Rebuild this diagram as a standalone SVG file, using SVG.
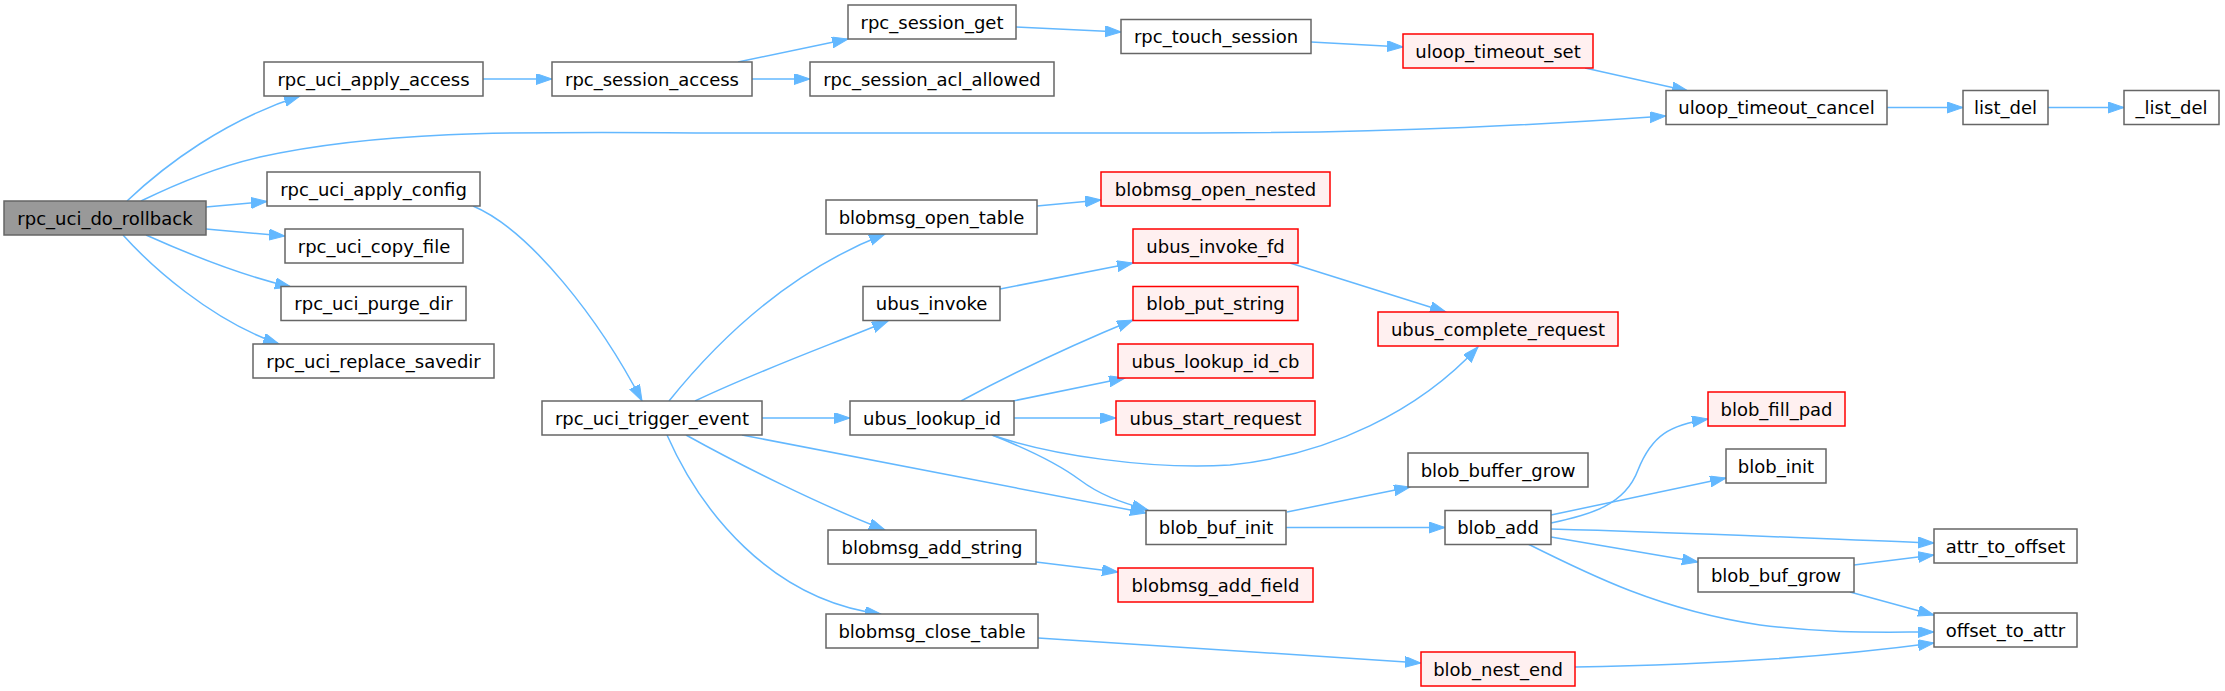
<svg xmlns="http://www.w3.org/2000/svg" width="2225" height="691" viewBox="0 0 2225 691">
<style>
.n rect{fill:#ffffff;stroke:#666666;stroke-width:1.5}
.g rect{fill:#999999;stroke:#666666;stroke-width:1.5}
.r rect{fill:#fff0f0;stroke:#ff0000;stroke-width:1.5}
text{font-family:"DejaVu Sans","Liberation Sans",sans-serif;font-size:18px;fill:#000;text-anchor:middle}
.e path{fill:none;stroke:#63b8ff;stroke-width:1.5;marker-end:url(#ah)}
</style>
<defs>
<marker id="ah" markerUnits="userSpaceOnUse" markerWidth="17" markerHeight="12" refX="16" refY="5.5" orient="auto">
<path d="M0,0 L16,5.5 L0,11 Z" fill="#63b8ff" stroke="#63b8ff" stroke-width="1"/>
</marker>
</defs>
<rect width="2225" height="691" fill="#ffffff"/>
<g id="connectors" class="e">
<path d="M127,201 C165,165 225,120 300,96"/>
<path d="M141,201 C180,182 220,166 260,157 C400,126 560,133 760,133 L1200,133 C1400,133 1550,124 1666,116"/>
<path d="M206,207 L267,201.5"/>
<path d="M206,229 L285,236"/>
<path d="M146,235 C175,248 235,274 291,287"/>
<path d="M123,235 C150,265 210,320 279,344"/>
<path d="M483,79 L552,79"/>
<path d="M473,206 C530,230 600,320 642,401"/>
<path d="M738,62 L848,39"/>
<path d="M752,79 L810,79"/>
<path d="M1016,27 L1121,32"/>
<path d="M1311,42 L1403,47"/>
<path d="M1585,68 L1688,91"/>
<path d="M1887,107.5 L1963,107.5"/>
<path d="M2048,107.5 L2124,107.5"/>
<path d="M669,401 C710,350 780,275 885,234"/>
<path d="M695,401 C760,370 830,345 888,321"/>
<path d="M762,418 L850,418"/>
<path d="M742,435 L1146,513"/>
<path d="M686,435 C740,465 820,505 885,530"/>
<path d="M667,435 C700,510 770,600 881,614"/>
<path d="M1037,206 L1101,200"/>
<path d="M1000,289 L1133,263"/>
<path d="M1290,263 L1446,312"/>
<path d="M961,401 C1000,380 1060,350 1133,320"/>
<path d="M1013,401 L1125,378"/>
<path d="M1013,418 L1116,418"/>
<path d="M992,435 C1050,455 1150,470 1230,465 C1330,455 1420,410 1478,347"/>
<path d="M992,435 C1030,450 1060,465 1080,480 C1100,495 1120,502 1148,510"/>
<path d="M1036,562 L1118,572"/>
<path d="M1038,638 C1150,645 1300,655 1421,663"/>
<path d="M1287,512 L1410,487"/>
<path d="M1286,527.5 L1445,527.5"/>
<path d="M1551,523 C1590,515 1625,505 1638,470 C1652,435 1670,425 1708,419"/>
<path d="M1551,515 L1726,478"/>
<path d="M1551,529 C1700,533 1850,540 1934,543"/>
<path d="M1551,537 L1698,562"/>
<path d="M1528,544 C1590,575 1660,610 1760,625 C1830,634 1880,632 1934,632"/>
<path d="M1854,565 L1934,555"/>
<path d="M1850,592 L1934,615"/>
<path d="M1575,667 C1700,665 1830,657 1934,643"/>
</g>
<g id="rpc_uci_do_rollback" class="g"><rect x="4" y="201" width="202" height="34"/><text x="105" y="224.5">rpc_uci_do_rollback</text></g>
<g id="rpc_uci_apply_access" class="n"><rect x="264" y="62" width="219" height="34"/><text x="373.5" y="85.5">rpc_uci_apply_access</text></g>
<g id="rpc_uci_apply_config" class="n"><rect x="267" y="172" width="213" height="34"/><text x="373.5" y="195.5">rpc_uci_apply_config</text></g>
<g id="rpc_uci_copy_file" class="n"><rect x="285" y="229" width="178" height="34"/><text x="374" y="252.5">rpc_uci_copy_file</text></g>
<g id="rpc_uci_purge_dir" class="n"><rect x="281" y="286.5" width="185" height="34"/><text x="373.5" y="310">rpc_uci_purge_dir</text></g>
<g id="rpc_uci_replace_savedir" class="n"><rect x="253" y="344" width="241" height="34"/><text x="373.5" y="367.5">rpc_uci_replace_savedir</text></g>
<g id="rpc_session_get" class="n"><rect x="848" y="5" width="168" height="34"/><text x="932" y="28.5">rpc_session_get</text></g>
<g id="rpc_session_access" class="n"><rect x="552" y="62" width="200" height="34"/><text x="652" y="85.5">rpc_session_access</text></g>
<g id="rpc_session_acl_allowed" class="n"><rect x="810" y="62" width="244" height="34"/><text x="932" y="85.5">rpc_session_acl_allowed</text></g>
<g id="rpc_touch_session" class="n"><rect x="1121" y="19.5" width="190" height="34"/><text x="1216" y="43">rpc_touch_session</text></g>
<g id="uloop_timeout_set" class="r"><rect x="1403" y="34" width="190" height="34"/><text x="1498" y="57.5">uloop_timeout_set</text></g>
<g id="uloop_timeout_cancel" class="n"><rect x="1666" y="90.5" width="221" height="34"/><text x="1776.5" y="114">uloop_timeout_cancel</text></g>
<g id="list_del" class="n"><rect x="1963" y="90.5" width="85" height="34"/><text x="2005.5" y="114">list_del</text></g>
<g id="_list_del" class="n"><rect x="2124" y="90.5" width="95" height="34"/><text x="2171.5" y="114">_list_del</text></g>
<g id="rpc_uci_trigger_event" class="n"><rect x="542" y="401" width="220" height="34"/><text x="652" y="424.5">rpc_uci_trigger_event</text></g>
<g id="blobmsg_open_table" class="n"><rect x="826" y="200" width="211" height="34"/><text x="931.5" y="223.5">blobmsg_open_table</text></g>
<g id="ubus_invoke" class="n"><rect x="863" y="286.5" width="137" height="34"/><text x="931.5" y="310">ubus_invoke</text></g>
<g id="ubus_lookup_id" class="n"><rect x="850" y="401" width="164" height="34"/><text x="932" y="424.5">ubus_lookup_id</text></g>
<g id="blobmsg_add_string" class="n"><rect x="828" y="530" width="208" height="34"/><text x="932" y="553.5">blobmsg_add_string</text></g>
<g id="blobmsg_close_table" class="n"><rect x="826" y="614" width="212" height="34"/><text x="932" y="637.5">blobmsg_close_table</text></g>
<g id="blobmsg_open_nested" class="r"><rect x="1101" y="172" width="229" height="34"/><text x="1215.5" y="195.5">blobmsg_open_nested</text></g>
<g id="ubus_invoke_fd" class="r"><rect x="1133" y="229" width="165" height="34"/><text x="1215.5" y="252.5">ubus_invoke_fd</text></g>
<g id="blob_put_string" class="r"><rect x="1133" y="286.5" width="165" height="34"/><text x="1215.5" y="310">blob_put_string</text></g>
<g id="ubus_complete_request" class="r"><rect x="1378" y="312" width="240" height="34"/><text x="1498" y="335.5">ubus_complete_request</text></g>
<g id="ubus_lookup_id_cb" class="r"><rect x="1118" y="344" width="195" height="34"/><text x="1215.5" y="367.5">ubus_lookup_id_cb</text></g>
<g id="ubus_start_request" class="r"><rect x="1116" y="401" width="199" height="34"/><text x="1215.5" y="424.5">ubus_start_request</text></g>
<g id="blob_buf_init" class="n"><rect x="1146" y="510.5" width="140" height="34"/><text x="1216" y="534">blob_buf_init</text></g>
<g id="blobmsg_add_field" class="r"><rect x="1118" y="568" width="195" height="34"/><text x="1215.5" y="591.5">blobmsg_add_field</text></g>
<g id="blob_buffer_grow" class="n"><rect x="1408" y="453" width="180" height="34"/><text x="1498" y="476.5">blob_buffer_grow</text></g>
<g id="blob_add" class="n"><rect x="1445" y="510.5" width="106" height="34"/><text x="1498" y="534">blob_add</text></g>
<g id="blob_nest_end" class="r"><rect x="1421" y="652" width="154" height="34"/><text x="1498" y="675.5">blob_nest_end</text></g>
<g id="blob_fill_pad" class="r"><rect x="1708" y="392" width="137" height="34"/><text x="1776.5" y="415.5">blob_fill_pad</text></g>
<g id="blob_init" class="n"><rect x="1726" y="449" width="100" height="34"/><text x="1776" y="472.5">blob_init</text></g>
<g id="attr_to_offset" class="n"><rect x="1934" y="529" width="143" height="34"/><text x="2005.5" y="552.5">attr_to_offset</text></g>
<g id="blob_buf_grow" class="n"><rect x="1698" y="558" width="156" height="34"/><text x="1776" y="581.5">blob_buf_grow</text></g>
<g id="offset_to_attr" class="n"><rect x="1934" y="613" width="143" height="34"/><text x="2005.5" y="636.5">offset_to_attr</text></g>
</svg>
